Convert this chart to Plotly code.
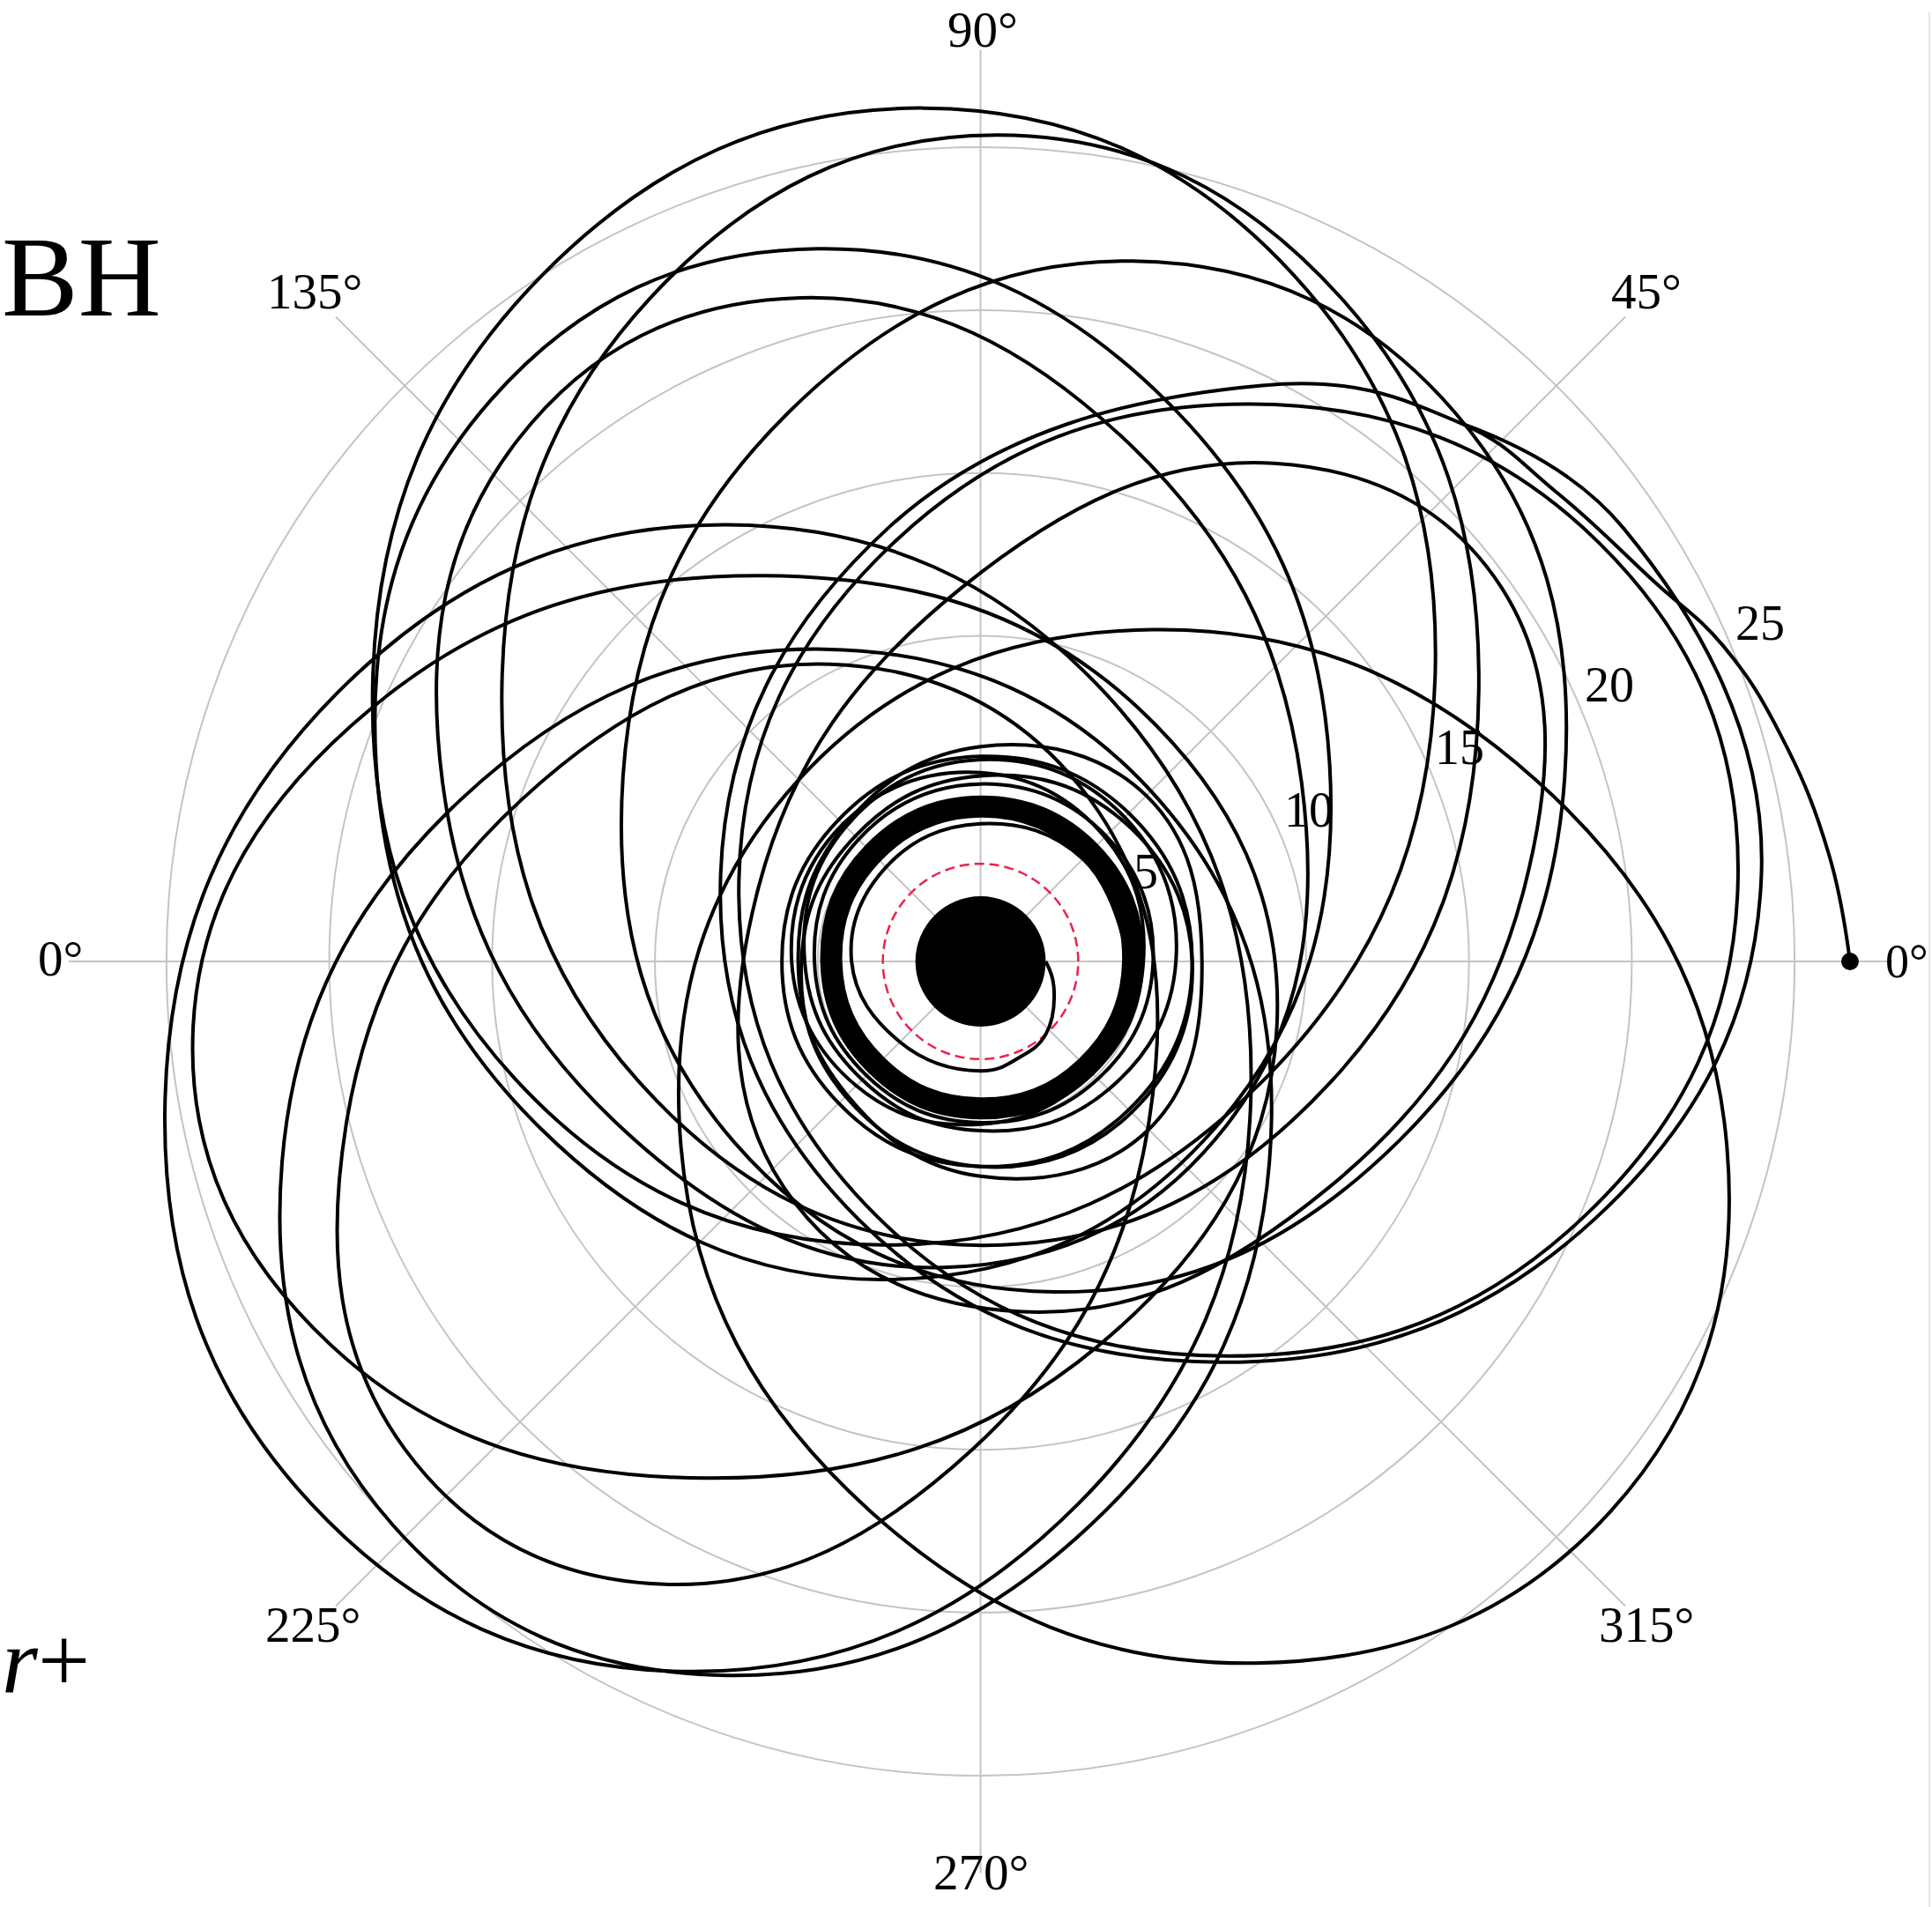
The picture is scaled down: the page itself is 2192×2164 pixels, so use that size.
import numpy as np
import plotly.graph_objects as go

# ---------------- axis / reference values ----------------
ANGLE_TICKS = [0, 45, 90, 135, 180, 225, 270, 315]
ANGLE_TEXT = ["0°", "45°", "90°", "135°", "0°", "225°", "270°", "315°"]
RADIAL_TICKS = [5, 10, 15, 20, 25]
RADIAL_LABEL_ANGLE = 22.5
R_MAX = 28
HORIZON_R = 2.0          # event horizon (M = 1)
PHOTON_R = 3.0           # photon sphere
START_R, START_THETA = 26.7, 0.0

# ---------------- orbit: wide zoom loops (x, y in units of M) ----------------
# first loop, leaving the starting point and closing onto its own arc
first_loop_x = [26.70, 26.06, 24.62, 22.80, 20.68, 17.70, 14.71, 8.64, -2.85, -7.98,
                -3.75, 7.36, 18.85, 23.98, 19.75, 14.71]
first_loop_y = [0.00, 3.26, 6.86, 9.70, 11.67, 14.40, 16.55, 17.69, 13.30, 2.69,
                -7.92, -12.31, -7.92, 2.69, 13.30, 16.55]

leaf_a_x = [13.96, 9.61, -1.74, -13.45, -18.66, -14.31, -2.96, 8.75]
leaf_a_y = [8.75, 21.09, 26.21, 21.09, 8.75, -3.59, -8.71, -3.59]
leaf_b_x = [15.30, 11.07, 0.53, -10.14, -14.70, -10.47, 0.07, 10.74]
leaf_b_y = [8.33, 20.38, 25.38, 20.38, 8.33, -3.72, -8.72, -3.72]
leaf_c_x = [10.72, 5.67, -5.00, -15.03, -18.56, -13.51, -2.84, 7.19]
leaf_c_y = [6.06, 17.25, 21.89, 17.25, 6.06, -5.13, -9.77, -5.13]
leaf_d_x = [9.86, 4.44, -5.53, -14.21, -16.52, -11.10, -1.13, 7.55]
leaf_d_y = [5.49, 16.02, 20.38, 16.02, 5.49, -5.04, -9.40, -5.04]
leaf_e_x = [17.94, 14.56, 4.69, -5.89, -10.98, -7.60, 2.27, 12.85]
leaf_e_y = [5.68, 16.87, 21.51, 16.87, 5.68, -5.51, -10.15, -5.51]
leaf_g_x = [23.26, 19.01, 8.26, -2.69, -7.42, -3.17, 7.58, 18.53]
leaf_g_y = [2.50, 12.84, 17.12, 12.84, 2.50, -7.84, -12.12, -7.84]
leaf_h_x = [8.30, 3.82, -7.80, -19.75, -25.04, -20.56, -8.94, 3.01]
leaf_h_y = [-4.20, 8.25, 13.41, 8.25, -4.20, -16.65, -21.81, -16.65]
leaf_i_x = [9.10, 4.84, -6.67, -18.69, -24.18, -19.92, -8.41, 3.61]
leaf_i_y = [-2.01, 7.79, 11.85, 7.79, -2.01, -11.81, -15.87, -11.81]
leaf_j_x = [8.87, 5.47, -4.81, -15.96, -21.45, -18.05, -7.77, 3.38]
leaf_j_y = [-6.17, 4.97, 9.59, 4.97, -6.17, -17.31, -21.93, -17.31]
leaf_k_x = [5.16, 3.35, -4.62, -14.07, -19.48, -17.67, -9.70, -0.25]
leaf_k_y = [-5.00, 4.99, 9.13, 4.99, -5.00, -14.99, -19.13, -14.99]
leaf_l_x = [22.92, 17.09, 5.27, -5.62, -9.20, -3.37, 8.45, 19.34]
leaf_l_y = [-5.68, 5.54, 10.19, 5.54, -5.68, -16.90, -21.55, -16.90]
leaf_m_x = [16.70, 16.00, 9.01, -0.58, -6.82, -6.04, 1.29, 10.70]
leaf_m_y = [2.27, 11.48, 15.30, 11.48, 2.27, -6.94, -10.76, -6.94]

# ---------------- orbit: whirl region (r in M at fixed angles) ----------------
ring_theta = [0, 45, 90, 135, 180, 225, 270, 315, 360]
whirl_1_r = [4.40, 4.47, 4.47, 4.40, 4.30, 4.23, 4.23, 4.30, 4.40]
whirl_2_r = [4.47, 4.55, 4.54, 4.46, 4.37, 4.30, 4.30, 4.38, 4.47]
whirl_3_r = [4.53, 4.60, 4.60, 4.53, 4.43, 4.36, 4.36, 4.43, 4.53]
whirl_4_r = [4.60, 4.67, 4.66, 4.60, 4.50, 4.42, 4.43, 4.50, 4.60]
whirl_5_r = [4.65, 4.72, 4.72, 4.65, 4.55, 4.48, 4.48, 4.55, 4.65]
whirl_6_r = [4.71, 4.78, 4.78, 4.71, 4.61, 4.54, 4.54, 4.61, 4.71]
whirl_7_r = [4.77, 4.84, 4.84, 4.77, 4.67, 4.60, 4.60, 4.67, 4.77]
whirl_8_r = [4.83, 4.90, 4.90, 4.83, 4.73, 4.66, 4.66, 4.73, 4.83]
whirl_9_r = [4.90, 4.97, 4.97, 4.90, 4.80, 4.73, 4.73, 4.80, 4.90]
whirl_10_r = [4.97, 5.04, 5.04, 4.97, 4.87, 4.80, 4.80, 4.87, 4.97]
loose_1_r = [6.00, 6.26, 6.20, 5.85, 5.40, 5.14, 5.20, 5.56, 6.00]
loose_2_r = [6.50, 6.14, 5.70, 5.44, 5.50, 5.86, 6.30, 6.56, 6.50]
loose_3_r = [5.00, 5.40, 5.80, 5.97, 5.80, 5.40, 5.00, 4.83, 5.00]
loose_4_r = [6.50, 6.44, 6.30, 6.16, 6.10, 6.16, 6.30, 6.44, 6.50]
loose_5_r = [5.30, 5.45, 5.45, 5.30, 5.10, 4.95, 4.95, 5.10, 5.30]
loose_6_r = [6.80, 7.20, 6.60, 5.90, 5.60, 5.80, 6.60, 7.30, 6.80]

# final plunge into the horizon
plunge_theta = [0, 45, 90, 135, 180, 225, 270, 292, 312, 341, 360]
plunge_r = [4.55, 4.45, 4.23, 4.10, 3.96, 3.50, 3.36, 3.18, 3.00, 2.38, 2.00]

# ---------------- styling ----------------
GRID = "#c4c4c4"
SERIF = "Liberation Serif"
W, H = 2192, 2164
CX, CY, RPIX = 1112.5, 1091.0, 1034.5   # polar centre / radius in page pixels


def to_polar(xs, ys):
    xs = np.asarray(xs, float)
    ys = np.asarray(ys, float)
    return np.hypot(xs, ys), np.degrees(np.arctan2(ys, xs))


def closed_loop(xs, ys):
    # start each loop at its point nearest the hole and close it
    r, t = to_polar(xs, ys)
    k = int(np.argmin(r))
    r = np.roll(r, -k)
    t = np.roll(t, -k)
    return list(r) + [r[0]], list(t) + [t[0]]


fig = go.Figure()

# event horizon (filled disc)
fig.add_trace(go.Barpolar(r=[HORIZON_R], theta=[0], width=[360], base=0,
                          marker=dict(color="black", line=dict(width=0)),
                          hoverinfo="skip", showlegend=False))

# photon sphere
ps_theta = list(range(0, 361, 3))
fig.add_trace(go.Scatterpolar(r=[PHOTON_R] * len(ps_theta), theta=ps_theta, mode="lines",
                              line=dict(color="#e8234e", width=2.5, dash="11px,6px"),
                              hoverinfo="skip", showlegend=False))

orbit_line = dict(color="black", width=4.0, shape="spline", smoothing=1.2)

r, t = to_polar(first_loop_x, first_loop_y)
fig.add_trace(go.Scatterpolar(r=r, theta=t, mode="lines", line=orbit_line,
                              hoverinfo="skip", showlegend=False))

leaves = [(leaf_a_x, leaf_a_y), (leaf_b_x, leaf_b_y), (leaf_c_x, leaf_c_y),
          (leaf_d_x, leaf_d_y), (leaf_e_x, leaf_e_y), (leaf_g_x, leaf_g_y),
          (leaf_h_x, leaf_h_y), (leaf_i_x, leaf_i_y), (leaf_j_x, leaf_j_y),
          (leaf_k_x, leaf_k_y), (leaf_l_x, leaf_l_y), (leaf_m_x, leaf_m_y)]
for lx, ly in leaves:
    r, t = closed_loop(lx, ly)
    fig.add_trace(go.Scatterpolar(r=r, theta=t, mode="lines", line=orbit_line,
                                  hoverinfo="skip", showlegend=False))

for rr in [whirl_1_r, whirl_2_r, whirl_3_r, whirl_4_r, whirl_5_r, whirl_6_r,
           whirl_7_r, whirl_8_r, whirl_9_r, whirl_10_r,
           loose_1_r, loose_2_r, loose_3_r, loose_4_r, loose_5_r, loose_6_r]:
    fig.add_trace(go.Scatterpolar(r=rr, theta=ring_theta, mode="lines", line=orbit_line,
                                  hoverinfo="skip", showlegend=False))

fig.add_trace(go.Scatterpolar(r=plunge_r, theta=plunge_theta, mode="lines", line=orbit_line,
                              hoverinfo="skip", showlegend=False))

# starting point
fig.add_trace(go.Scatterpolar(r=[START_R], theta=[START_THETA], mode="markers",
                              marker=dict(color="black", size=20),
                              hoverinfo="skip", showlegend=False))

fig.update_layout(
    width=W, height=H,
    margin=dict(l=0, r=0, t=0, b=0),
    paper_bgcolor="white",
    showlegend=False,
    polar=dict(
        domain=dict(x=[(CX - RPIX) / W, (CX + RPIX) / W],
                    y=[1 - (CY + RPIX) / H, 1 - (CY - RPIX) / H]),
        bgcolor="white",
        barmode="overlay",
        radialaxis=dict(range=[0, R_MAX], tickvals=RADIAL_TICKS, showticklabels=False,
                        angle=RADIAL_LABEL_ANGLE, showline=False, ticks="",
                        gridcolor=GRID, gridwidth=2),
        angularaxis=dict(tickvals=ANGLE_TICKS, showticklabels=False, showline=False,
                         ticks="", gridcolor=GRID, gridwidth=2,
                         direction="counterclockwise", rotation=0),
    ),
)

# radial tick labels, upright, just above the 22.5° ray
px_per_unit = RPIX / R_MAX
ca, sa = np.cos(np.radians(RADIAL_LABEL_ANGLE)), np.sin(np.radians(RADIAL_LABEL_ANGLE))
for v in RADIAL_TICKS:
    ax_px = CX + v * px_per_unit * ca
    ay_px = CY - v * px_per_unit * sa
    fig.add_annotation(x=(ax_px + 1) / W, y=1 - (ay_px - 31) / H, xref="paper", yref="paper",
                       text=str(v), showarrow=False, xanchor="left", yanchor="middle",
                       font=dict(family=SERIF, size=56, color="black"))

# angular labels
label_pos = {  # page pixel anchor points
    0: (2137, 1091, "left", 54),
    45: (1868, 330, "center", 57),
    90: (1115, 33, "center", 57),
    135: (357, 330, "center", 57),
    180: (96, 1087, "right", 57),
    225: (355, 1843, "center", 57),
    270: (1113, 2124, "center", 57),
    315: (1868, 1843, "center", 57),
}
for ang, txt in zip(ANGLE_TICKS, ANGLE_TEXT):
    px, py, anchor, fs = label_pos[ang]
    fig.add_annotation(x=px / W, y=1 - py / H, xref="paper", yref="paper",
                       text=txt, showarrow=False, xanchor=anchor, yanchor="middle",
                       font=dict(family=SERIF, size=fs, color="black"))

# panel captions
fig.add_annotation(x=0.0, y=1 - 314 / H, xref="paper", yref="paper", text="BH",
                   showarrow=False, xanchor="left", yanchor="middle",
                   font=dict(family=SERIF, size=130, color="black"))
fig.add_annotation(x=0.0, y=1 - 1884 / H, xref="paper", yref="paper",
                   text="<i>r</i>+", showarrow=False, xanchor="left", yanchor="middle",
                   font=dict(family=SERIF, size=105, color="black"))

fig.add_shape(type="line", xref="paper", yref="paper", x0=2189 / W, x1=2189 / W,
              y0=0, y1=1 - 14 / H, line=dict(color="#dddddd", width=1.5))

fig.write_html("out.html")
